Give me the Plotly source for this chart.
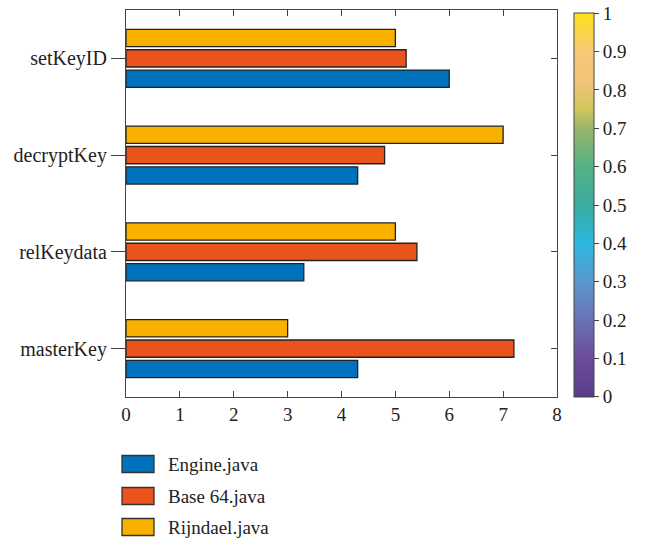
import plotly.graph_objects as go

categories = ["masterKey", "relKeydata", "decryptKey", "setKeyID"]
series_names = ["Engine.java", "Base 64.java", "Rijndael.java"]
engine = [4.3, 3.3, 4.3, 6.0]
base64 = [7.2, 5.4, 4.8, 5.2]
rijndael = [3.0, 5.0, 7.0, 5.0]
series_values = [engine, base64, rijndael]
series_colors = ["#0072BD", "#EA531C", "#F9B100"]
x_ticks = [0, 1, 2, 3, 4, 5, 6, 7, 8]
cbar_ticks = [0, 0.1, 0.2, 0.3, 0.4, 0.5, 0.6, 0.7, 0.8, 0.9, 1]
cbar_colorscale = [
    [0.0, "#5a3c8c"], [0.1, "#6a4c9c"], [0.2, "#6a72b4"], [0.3, "#5a98d0"],
    [0.4, "#2cb8e0"], [0.5, "#3aaca0"], [0.6, "#55b283"], [0.7, "#98b66a"],
    [0.75, "#d2c65a"], [0.82, "#f2c479"], [0.9, "#f8c878"], [1.0, "#fde11a"],
]

FONT = "Liberation Serif"
W, H = 646, 542
L, R, T, B = 126, 557, 10, 397


def px_x(p):
    return (p - L) / (R - L)


def px_y(p):
    return (B - p) / (B - T)


fig = go.Figure()
for name, vals, col in zip(series_names, series_values, series_colors):
    fig.add_trace(go.Bar(
        y=categories, x=vals, name=name, orientation="h",
        marker=dict(color=col, line=dict(color="#222222", width=1.3)),
        showlegend=False,
    ))

# colorbar carrier
fig.add_trace(go.Scatter(
    x=[None, None], y=[None, None], mode="markers", showlegend=False,
    marker=dict(color=[0, 1], cmin=-0.0005, cmax=1.0005,
                colorscale=cbar_colorscale, showscale=True,
                colorbar=dict(
                    x=px_x(574), xanchor="left", thickness=20,
                    thicknessmode="pixels", lenmode="pixels", len=384,
                    y=px_y(205), yanchor="middle",
                    outlinecolor="#444444", outlinewidth=1,
                    tickvals=cbar_ticks, ticktext=[f"{v:g}" for v in cbar_ticks],
                    ticks="outside", ticklen=5, tickcolor="#444444",
                    tickfont=dict(family=FONT, size=19, color="#222222"),
                    xpad=0, ypad=0,
                )),
))

# manual legend
legend_y = [464, 496, 527]
for name, col, yc in zip(series_names, series_colors, legend_y):
    fig.add_shape(type="rect", xref="paper", yref="paper",
                  x0=px_x(122), x1=px_x(154),
                  y0=px_y(yc - 8.5), y1=px_y(yc + 8.5),
                  fillcolor=col, line=dict(color="#333333", width=1.3))
    fig.add_annotation(xref="paper", yref="paper", x=px_x(166),
                       y=px_y(yc), text=name, showarrow=False,
                       xanchor="left", yanchor="middle",
                       font=dict(family=FONT, size=19, color="#222222"))

fig.update_layout(
    width=W, height=H,
    margin=dict(l=L, r=W - R, t=T, b=H - B, pad=0),
    paper_bgcolor="white", plot_bgcolor="white",
    barmode="group", bargap=0.37, bargroupgap=0.15,
    font=dict(family=FONT, size=19, color="#222222"),
    xaxis=dict(range=[0, 8], tickvals=x_ticks, ticks="inside", ticklen=6,
               tickcolor="#444444", showline=True, linecolor="#444444",
               linewidth=1.2, mirror="ticks", showgrid=False, zeroline=False,
               tickfont=dict(family=FONT, size=19, color="#222222")),
    yaxis=dict(type="category", categoryorder="array", categoryarray=categories,
               range=[-0.5, 3.5], ticks="outside", ticklen=14, tickcolor="#444444",
               showline=True, linecolor="#444444", linewidth=1.2, mirror=True,
               showgrid=False, zeroline=False, ticklabelstandoff=0,
               tickfont=dict(family=FONT, size=20, color="#222222")),
    yaxis2=dict(overlaying="y", side="right", range=[-0.5, 3.5],
                tickvals=[0, 1, 2, 3], showticklabels=False, ticks="inside",
                ticklen=6, tickcolor="#444444", showgrid=False, zeroline=False,
                showline=False),
)
fig.add_trace(go.Scatter(x=[None], y=[None], yaxis="y2", showlegend=False))

fig.write_html(
    "out.html",
    config={"displayModeBar": False},
    post_script="document.body.style.margin='0';document.body.style.overflow='hidden';",
)
